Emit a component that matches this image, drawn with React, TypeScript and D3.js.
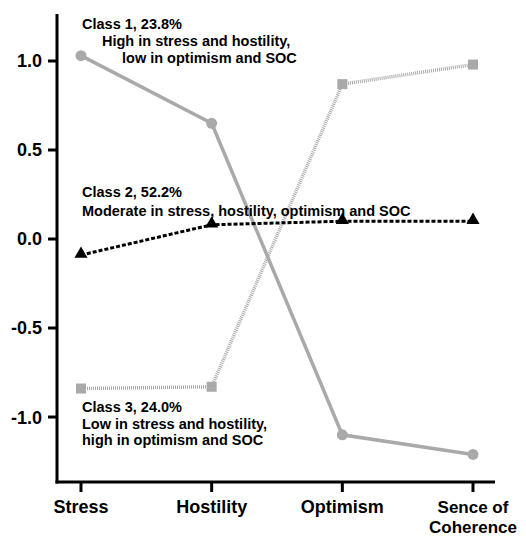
// @ts-nocheck
import * as d3 from 'd3';
import React, { useEffect, useRef } from 'react';

const categories = ['Stress', 'Hostility', 'Optimism', 'Sence of Coherence'];
const categoryLines = [['Stress'], ['Hostility'], ['Optimism'], ['Sence of', 'Coherence']];
const class1 = [1.03, 0.65, -1.1, -1.21];
const class2 = [-0.09, 0.08, 0.1, 0.1];
const class3 = [-0.84, -0.83, 0.87, 0.98];
const yTicks = [1.0, 0.5, 0.0, -0.5, -1.0];

const class1Text = ['Class 1, 23.8%', 'High in stress and hostility,', 'low in optimism and SOC'];
const class2Text = ['Class 2, 52.2%', 'Moderate in stress, hostility, optimism and SOC'];
const class3Text = ['Class 3, 24.0%', 'Low in stress and hostility,', 'high in optimism and SOC'];

const width = 526;
const height = 536;

export default function App() {
  const svgRef = useRef(null);

  useEffect(() => {
    document.body.style.margin = '0';
    const svg = d3.select(svgRef.current);
    svg.selectAll('*').remove();

    const font = 'Liberation Sans, Arial, Helvetica, sans-serif';
    const gray = '#a9a9a9';

    const x = d3.scalePoint().domain(categories).range([81, 473]);
    const y = d3.scaleLinear().domain([-1.365, 1.264]).range([482, 14]);

    // Axes drawn by hand with the scales (bold lines)
    const axisX0 = 57;
    const axisX1 = 495;
    svg.append('line')
      .attr('x1', axisX0).attr('x2', axisX0)
      .attr('y1', y(1.264)).attr('y2', y(-1.365) + 1.5)
      .attr('stroke', '#000').attr('stroke-width', 3);
    svg.append('line')
      .attr('x1', axisX0 - 1.5).attr('x2', axisX1)
      .attr('y1', y(-1.365)).attr('y2', y(-1.365))
      .attr('stroke', '#000').attr('stroke-width', 3);

    // y ticks
    const yg = svg.append('g');
    yTicks.forEach(t => {
      yg.append('line')
        .attr('x1', axisX0 - 9).attr('x2', axisX0)
        .attr('y1', y(t)).attr('y2', y(t))
        .attr('stroke', '#000').attr('stroke-width', 3);
      yg.append('text')
        .attr('x', axisX0 - 15).attr('y', y(t))
        .attr('dy', '0.36em')
        .attr('text-anchor', 'end')
        .style('font-family', font).style('font-weight', 'bold').style('font-size', '18px')
        .text(t.toFixed(1));
    });

    // x ticks
    const xg = svg.append('g');
    categories.forEach((c, i) => {
      xg.append('line')
        .attr('x1', x(c)).attr('x2', x(c))
        .attr('y1', y(-1.365)).attr('y2', y(-1.365) + 10)
        .attr('stroke', '#000').attr('stroke-width', 3);
      const two = categoryLines[i].length > 1;
      categoryLines[i].forEach((l, j) => {
        xg.append('text')
          .attr('x', x(c)).attr('y', 513 + j * 19.5)
          .attr('text-anchor', 'middle')
          .style('font-family', font).style('font-weight', 'bold')
          .style('font-size', two ? '17px' : '18px')
          .text(l);
      });
    });

    const line = d3.line<number>()
      .x((d, i) => x(categories[i]))
      .y(d => y(d));

    // Class 1: solid gray with circles
    svg.append('path').datum(class1)
      .attr('fill', 'none').attr('stroke', gray).attr('stroke-width', 3.5)
      .attr('d', line);
    svg.selectAll('.c1').data(class1).enter().append('circle')
      .attr('cx', (d, i) => x(categories[i])).attr('cy', d => y(d))
      .attr('r', 5.5).attr('fill', gray);

    // Class 3: dotted gray with squares
    svg.append('path').datum(class3)
      .attr('fill', 'none').attr('stroke', gray).attr('stroke-width', 3.5)
      .attr('stroke-dasharray', '1,1')
      .attr('d', line);
    svg.selectAll('.c3').data(class3).enter().append('rect')
      .attr('x', (d, i) => x(categories[i]) - 5).attr('y', d => y(d) - 5)
      .attr('width', 10).attr('height', 10).attr('fill', gray);

    // Class 2: dashed black with triangles
    svg.append('path').datum(class2)
      .attr('fill', 'none').attr('stroke', '#000').attr('stroke-width', 3)
      .attr('stroke-dasharray', '4,2')
      .attr('d', line);
    const tri = d3.symbol().type(d3.symbolTriangle).size(75);
    svg.selectAll('.c2').data(class2).enter().append('path')
      .attr('transform', (d, i) => `translate(${x(categories[i])},${y(d) - 1})`)
      .attr('d', tri).attr('fill', '#000');

    // annotations
    const annot = (lines, xs, y0, gap) => {
      lines.forEach((l, i) => {
        svg.append('text')
          .attr('x', xs[i]).attr('y', y0 + i * gap)
          .style('font-family', font).style('font-weight', 'bold').style('font-size', '14.5px')
          .text(l);
      });
    };
    annot(class1Text, [82, 102, 122], 29, 17);
    annot(class2Text, [82, 82], 197, 18.5);
    annot(class3Text, [82, 82, 82], 412, 16.5);
  }, []);

  return <svg ref={svgRef} width={width} height={height} style={{ display: 'block', background: '#fff' }} />;
}
